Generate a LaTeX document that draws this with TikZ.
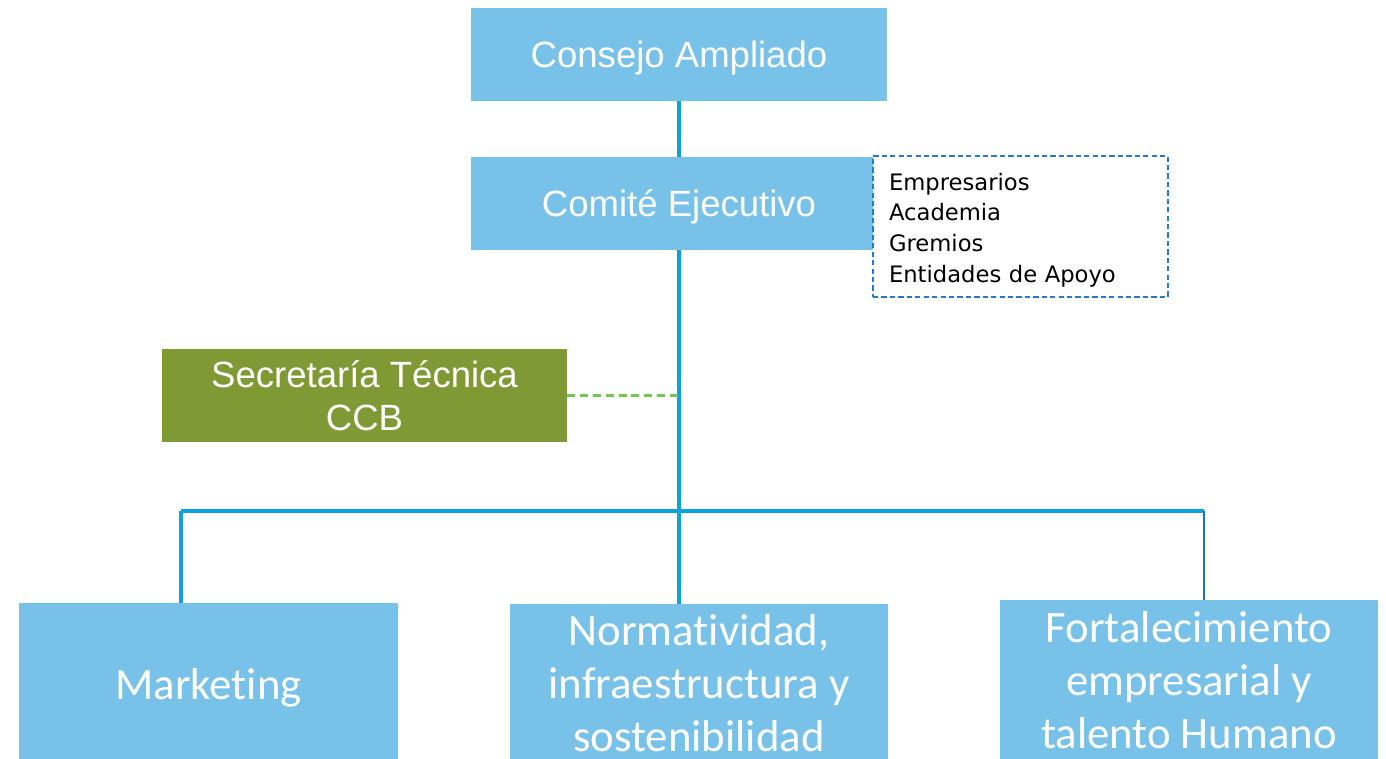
\documentclass[tikz,border=0pt]{standalone}
\usepackage{fontspec}
\setmainfont{Liberation Sans}
\newfontfamily\cajafont[Ligatures=NoCommon]{Carlito}
\newfontfamily\listafont{DejaVu Sans}
\usepackage{xcolor}
\definecolor{cajaazul}{HTML}{78C2E9}
\definecolor{lineaazul}{HTML}{0AA2DC}
\definecolor{lineafina}{HTML}{1A6FCC}
\definecolor{bordelista}{HTML}{2A78CC}
\definecolor{cajaolivo}{HTML}{7F9934}
\definecolor{verdeclaro}{HTML}{72C655}

\begin{document}
\begin{tikzpicture}[x=0.02cm, y=-0.02cm,
  caja/.style={fill=cajaazul, text=white, minimum width=8.32cm, minimum height=1.86cm,
    text depth=0pt, font=\fontsize{20.8}{25}\selectfont},
  cajabaja/.style={fill=cajaazul, text=white, minimum width=7.58cm, minimum height=3.4cm,
    align=center, font=\cajafont\fontsize{25.5}{30}\selectfont},
  lista/.style={draw=bordelista, line width=1.1pt, dash pattern=on 3pt off 1.8pt, fill=white,
    minimum width=5.9cm, minimum height=2.82cm, text width=5.26cm, align=left,
    font=\listafont\fontsize{12.9}{17.6}\selectfont},
  conector/.style={lineaazul, line width=2.3pt}]
  \useasboundingbox (0,0) rectangle (1386,758);
  \clip (0,0) rectangle (1386,758);

  \node[caja] (consejo) at (679,54.5) {Consejo Ampliado};
  \node[caja] (comite) at (679,203.5) {Comité Ejecutivo};
  \node[lista] (miembros) at (1020.5,226.5) {\rule{0pt}{14pt}Empresarios\\Academia\\Gremios\\Entidades de Apoyo};
  \node[caja, fill=cajaolivo, minimum width=8.1cm, align=center] (secretaria) at (364.5,395.5)
    {Secretaría Técnica\\CCB};

  \node[cajabaja] (marketing) at (208.5,688) {Marketing};
  \node[cajabaja, minimum height=3.16cm] (normatividad) at (699,683)
    {Normatividad,\\infraestructura y\\sostenibilidad};
  \node[cajabaja, minimum height=3.2cm] (fortalecimiento) at (1189,680)
    {Fortalecimiento\\empresarial y\\talento Humano};

  \coordinate (izq) at (181,511);
  \coordinate (der) at (1204,511);

  \draw[conector] (consejo.south) -- (comite.north);
  \draw[conector] (comite.south) -- (comite.south |- normatividad.north);
  \draw[conector] (izq) -- (der);
  \draw[conector] (izq) -- (izq |- marketing.north);
  \draw[lineafina, line width=0.9pt] (der) -- (der |- fortalecimiento.north);
  \draw[verdeclaro, line width=1.2pt, dash pattern=on 4.5pt off 2.8pt]
    (secretaria.east) -- (secretaria.east -| comite.south);
\end{tikzpicture}
\end{document}
